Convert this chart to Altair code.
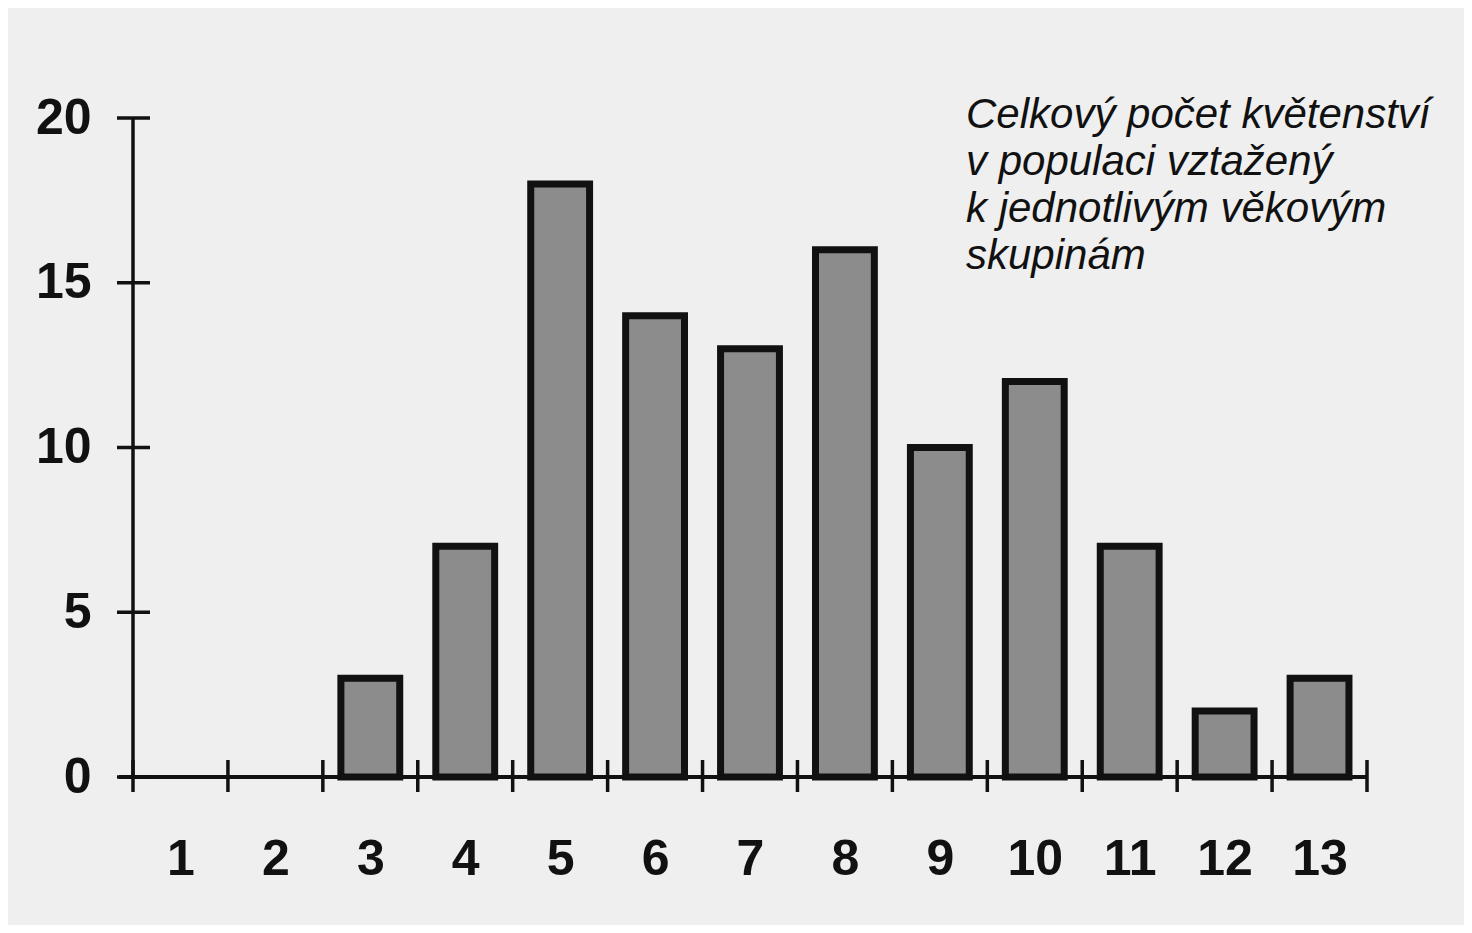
import altair as alt
import pandas as pd

# ---- data ----
age_groups = [1, 2, 3, 4, 5, 6, 7, 8, 9, 10, 11, 12, 13]
inflorescences = [0, 0, 3, 7, 18, 14, 13, 16, 10, 12, 7, 2, 3]
y_tick_values = [0, 5, 10, 15, 20]
caption_lines = [
    "Celkový počet květenství",
    "v populaci vztažený",
    "k jednotlivým věkovým",
    "skupinám",
]

W, H = 1234, 659
INK = "#111111"
FONT = "Liberation Sans"

df = pd.DataFrame({"age": age_groups, "count": inflorescences})
bounds = pd.DataFrame({"b": [a - 0.5 for a in age_groups] + [age_groups[-1] + 0.5]})
yt = pd.DataFrame({"t": y_tick_values})
one = pd.DataFrame({"d": [0]})

xscale = alt.Scale(domain=[0.5, 13.5], nice=False, zero=False)
yscale = alt.Scale(domain=[0, 20], nice=False)

x_axis = alt.Axis(
    values=age_groups, domain=False, ticks=False, tickSize=0, grid=False,
    labelFont=FONT, labelFontWeight="bold", labelFontSize=50, labelColor=INK,
    labelPadding=57, title=None, labelFlush=False, labelOverlap=False,
)
y_axis = alt.Axis(
    values=y_tick_values, domain=False, ticks=False, tickSize=0, grid=False,
    labelFont=FONT, labelFontWeight="bold", labelFontSize=50, labelColor=INK,
    labelPadding=42, title=None, labelFlush=False, labelOverlap=False,
)

bars = (
    alt.Chart(df)
    .transform_filter("datum.count > 0")
    .transform_calculate(lo="datum.age - 0.31", hi="datum.age + 0.31")
    .mark_bar(fill="#8c8c8c", stroke=INK, strokeWidth=7, cornerRadius=0)
    .encode(
        x=alt.X("lo:Q", scale=xscale, axis=x_axis),
        x2="hi:Q",
        y=alt.Y("count:Q", scale=yscale, axis=y_axis),
        y2=alt.datum(0),
    )
)

x_line = alt.Chart(one).mark_rule(color=INK, strokeWidth=4).encode(
    y=alt.value(H), x=alt.value(-14), x2=alt.value(W + 1)
)
y_line = alt.Chart(one).mark_rule(color=INK, strokeWidth=3.5).encode(
    x=alt.value(0), y=alt.value(0), y2=alt.value(H)
)
x_ticks = alt.Chart(bounds).mark_rule(color=INK, strokeWidth=3.5).encode(
    x=alt.X("b:Q", scale=xscale, axis=x_axis),
    y=alt.value(H - 17), y2=alt.value(H + 15),
)
y_ticks = alt.Chart(yt).mark_rule(color=INK, strokeWidth=3.5).encode(
    y=alt.Y("t:Q", scale=yscale, axis=y_axis),
    x=alt.value(-16), x2=alt.value(17),
)
caption = alt.Chart(one).mark_text(
    align="left", baseline="alphabetic", font=FONT, fontStyle="italic",
    fontSize=42, lineHeight=47, color=INK,
).encode(x=alt.value(833), y=alt.value(10), text=alt.value(caption_lines))

chart = (
    alt.layer(bars, x_line, y_line, x_ticks, y_ticks, caption)
    .properties(
        width=W, height=H,
        padding={"left": 125, "top": 110, "right": 97, "bottom": 148},
        autosize=alt.AutoSizeParams(type="none"),
        background="#efefef",
    )
    .configure_view(stroke=None)
)

chart.save("out.html", embed_options={"renderer": "svg", "actions": False})
